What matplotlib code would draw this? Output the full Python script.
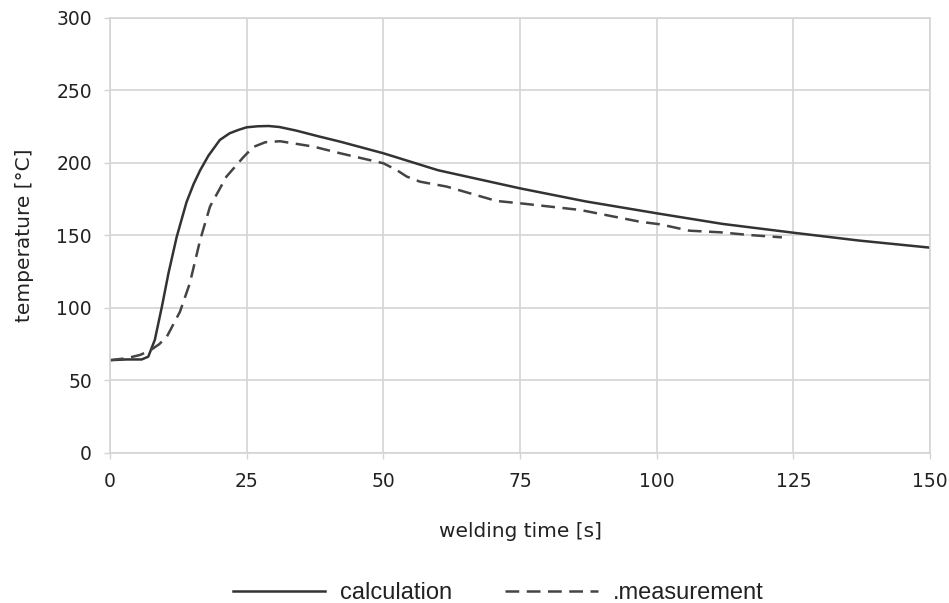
import numpy as np
import matplotlib
matplotlib.use('Agg')
import matplotlib.pyplot as plt

# values
calc_t = [0, 3, 5.8, 7, 8.2, 9.5, 10.7, 12.2, 14.0, 15.3, 16.5, 18.0, 20.1, 21.9, 23.5, 25, 27,
          29, 31, 34.1, 38, 42.1, 50, 60, 75, 87, 100, 112, 125, 137, 150]
calc_T = [64, 64.5, 64.5, 66.4, 78, 101, 124, 149, 173, 185.5, 195, 205, 215.9, 220.5, 222.8, 224.6, 225.3,
          225.5, 224.8, 222.3, 218.5, 214.7, 206.7, 195, 182.5, 173.5, 165.3, 158, 151.9, 146.5, 141.6]

meas_t = [0, 3, 5.5, 7.3, 9, 10.4, 12.8, 14.6, 16.5, 18.3, 21.3, 24.4, 26.2, 28.4, 31.1,
          37.2, 42.1, 50, 52.4, 54.3, 56.7, 61.6, 70.7, 75, 86, 96.9, 100.6, 106, 111.6, 117, 122.9]
meas_T = [64, 65.3, 67.6, 70.6, 75, 80.2, 97.4, 117, 147, 170, 190.6, 204, 211, 214.3, 215,
          211.3, 206.7, 199.8, 195.2, 190.6, 187.1, 183.7, 173.8, 172.2, 167.6, 159.5, 157.7, 153.3,
          152.2, 150.3, 148.7]

x_ticks = [0, 25, 50, 75, 100, 125, 150]
y_ticks = [0, 50, 100, 150, 200, 250, 300]

fig = plt.figure(figsize=(9.49, 6.03), dpi=100)
ax = fig.add_axes([0.1159, 0.2488, 0.8641, 0.7214])

line_col = '#333333'
grid_col = '#d4d4d4'
text_col = '#222222'

ax.plot(calc_t, calc_T, color=line_col, lw=1.8, solid_joinstyle='round', label='calculation')
ax.plot(meas_t, meas_T, color='#444444', lw=1.8, dashes=(5.5, 3.0), label='.measurement')

ax.set_xlim(0, 150)
ax.set_ylim(0, 300)
ax.set_xticks(x_ticks)
ax.set_yticks(y_ticks)
ax.grid(True, color=grid_col, lw=1.2)
for s in ax.spines.values():
    s.set_color(grid_col)
    s.set_linewidth(1.2)
ax.tick_params(colors=grid_col, labelcolor=text_col, labelsize=13.5, length=4, width=1.0)
ax.tick_params(axis='x', pad=10)
ax.tick_params(axis='y', pad=9)

ax.set_xlabel('welding time [s]', fontsize=14.5, color=text_col, labelpad=22)
ax.set_ylabel('temperature [°C]', fontsize=14.5, color=text_col, labelpad=16)

leg = fig.legend(loc='lower center', bbox_to_anchor=(0.525, -0.037), ncol=2, frameon=False,
                 handlelength=3.9, columnspacing=2.25, handletextpad=0.65,
                 prop={'family': 'Liberation Sans', 'size': 17})
for txt in leg.get_texts():
    txt.set_color(text_col)

fig.savefig('out.png', dpi=100)
